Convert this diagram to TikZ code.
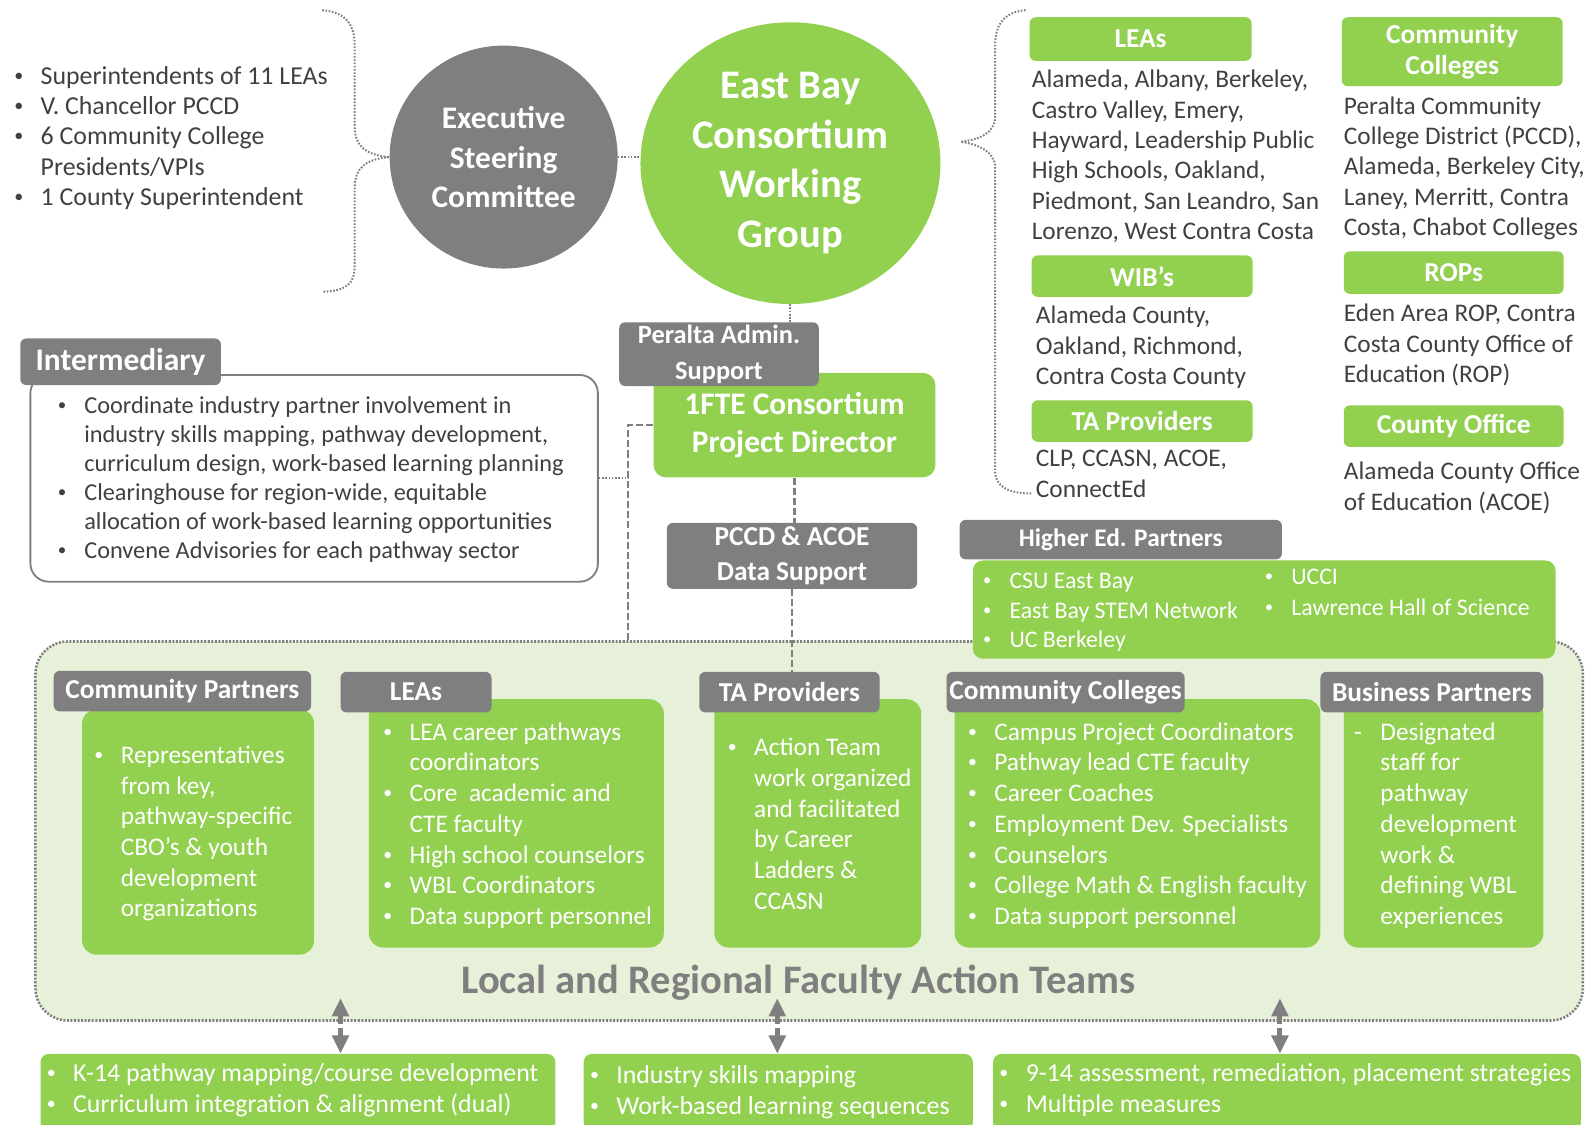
\documentclass[tikz,border=0pt]{standalone}
\usepackage{fontspec}
\setmainfont{Carlito}
\usetikzlibrary{shapes.geometric,arrows.meta}
\definecolor{egreen}{HTML}{92D050}
\definecolor{egray}{HTML}{7F7F7F}
\definecolor{etext}{HTML}{404040}
\definecolor{epale}{HTML}{E7F1DA}
\newcommand{\bu}{\makebox[26pt][l]{\raisebox{0.12em}{\scalebox{0.7}{\textbullet}}}}
\newcommand{\da}{\makebox[26pt][l]{-}}
\newcommand{\lst}[1]{\begin{tabular}[t]{@{}l@{}l@{}}#1\end{tabular}}
\newcommand{\rows}[1]{\begin{tabular}[t]{@{}l@{}}#1\end{tabular}}
\begin{document}
\begin{tikzpicture}[x=1pt,y=-1pt]
\tikzset{wh/.style 2 args={minimum width=#1pt,minimum height=#2pt}}
\tikzset{greenhead/.style={fill=egreen,rounded corners=6pt,text=white,align=center,inner sep=0pt,font=\bfseries\fontsize{27}{31}\selectfont}}
\tikzset{grayhead/.style={greenhead,fill=egray}}
\tikzset{greenbody/.style={fill=egreen,rounded corners=14pt,inner sep=0pt}}
\tikzset{plain/.style={anchor=base west,inner sep=0pt,text=etext,font=\fontsize{25}{30}\selectfont}}
\tikzset{wtext/.style={plain,text=white}}
\tikzset{dotline/.style={draw=egray,line width=2pt,dash pattern=on 1.6pt off 1.6pt}}
\tikzset{dashline/.style={draw=egray,line width=2.2pt,dash pattern=on 7pt off 3pt}}
\tikzset{twoway/.style={draw=egray,line width=5pt,dash pattern=on 9pt off 4pt,{Triangle[length=18pt,width=16pt]}-{Triangle[length=18pt,width=16pt]}}}
\useasboundingbox (0,0) rectangle (1568,1110);

\node[plain,font=\fontsize{25.5}{30}\selectfont] (esclist) at (14,83) {\lst{\bu & Superintendents of 11 LEAs\\ \bu & V. Chancellor PCCD\\ \bu & 6 Community College\\ & Presidents/VPIs\\ \bu & 1 County Superintendent}};
\node[ellipse,fill=egray,wh={225}{220},inner sep=0pt,text=white,align=center,font=\bfseries\fontsize{31}{38.5}\selectfont] (esc) at (497,155) {Executive\\Steering\\Committee};
\node[ellipse,fill=egreen,wh={296}{278},inner sep=0pt,text=white,align=center,font=\bfseries\fontsize{40}{49}\selectfont] (ebc) at (780,161) {East Bay\\Consortium\\Working\\Group};
\coordinate (lbtop) at (318,10);
\coordinate (lbbot) at (318,288);
\draw[dotline] (lbtop) .. controls (342,12) and (350,25) .. (350,45) -- (350,125) .. controls (350,145) and (362,153) .. (esc.west) .. controls (362,157) and (350,165) .. (350,185) -- (350,262) .. controls (350,280) and (342,287) .. (lbbot);
\draw[dotline] (esc.east) -- (esc.east -| ebc.west);

\node[greenhead,wh={219}{43}] (hlea) at (1125.5,38.5) {LEAs};
\node[greenhead,wh={218}{68}] (hcc) at (1433,51) {Community\\Colleges};
\node[greenhead,wh={218}{41}] (hwib) at (1127,272.5) {WIB’s};
\node[greenhead,wh={218}{41}] (hta) at (1127,415.5) {TA Providers};
\node[greenhead,wh={217}{42}] (hrop) at (1434.5,269) {ROPs};
\node[greenhead,wh={217}{41}] (hco) at (1434.5,420.5) {County Office};
\node[plain] (tlea) at (1018,86.5) {\rows{Alameda, Albany, Berkeley,\\ Castro Valley, Emery,\\ Hayward, Leadership Public\\ High Schools, Oakland,\\ Piedmont, San Leandro, San\\ Lorenzo, West Contra Costa}};
\node[plain] (tcc) at (1326,112.5) {\rows{Peralta Community\\ College District (PCCD),\\ Alameda, Berkeley City,\\ Laney, Merritt, Contra\\ Costa, Chabot Colleges}};
\node[plain] (twib) at (1022,319.5) {\rows{Alameda County,\\ Oakland, Richmond,\\ Contra Costa County}};
\node[plain] (tta) at (1022,460.5) {\rows{CLP, CCASN, ACOE,\\ ConnectEd}};
\node[plain] (trop) at (1326,317.5) {\rows{Eden Area ROP, Contra\\ Costa County Office of\\ Education (ROP)}};
\node[plain] (tco) at (1326,473.5) {\rows{Alameda County Office\\ of Education (ACOE)}};
\coordinate (rbtop) at (1012,10);
\coordinate (rbtip) at (948,140);
\coordinate (rbbot) at (1018,487);
\draw[dotline] (rbtop) .. controls (990,12) and (982,25) .. (982,45) -- (982,115) .. controls (982,132) and (965,138) .. (rbtip) .. controls (965,142) and (982,150) .. (982,165) -- (982,465) .. controls (982,480) and (995,487) .. (rbbot);

\node[greenhead,wh={278}{103},rounded corners=12pt,font=\bfseries\fontsize{31}{38}\selectfont] (pdir) at (784,419.5) {1FTE Consortium\\Project Director};
\node[grayhead,wh={197}{63},font=\bfseries\fontsize{26}{35}\selectfont] (padmin) at (709.5,349.5) {Peralta Admin.\\Support};
\node[grayhead,wh={247}{65},font=\bfseries\fontsize{27}{34}\selectfont] (pccd) at (781.5,548.5) {PCCD \& ACOE\\Data Support};
\draw[dotline] (ebc.south) -- (ebc.south |- padmin.north);
\draw[dashline] (pdir.south) -- (pdir.south |- pccd.north);

\node[draw=egray,line width=1.8pt,fill=white,rounded corners=18pt,wh={560}{204}] (interm) at (310,472) {};
\node[grayhead,wh={198}{46},font=\bfseries\fontsize{31}{36}\selectfont] (intermhead) at (119,357) {Intermediary};
\node[plain,font=\fontsize{24}{28.6}\selectfont] (intermlist) at (57,408) {\lst{\bu & Coordinate industry partner involvement in\\ & industry skills mapping, pathway development,\\ & curriculum design, work-based learning planning\\ \bu & Clearinghouse for region-wide, equitable\\ & allocation of work-based learning opportunities\\ \bu & Convene Advisories for each pathway sector}};

\node[fill=epale,draw=egray,line width=2.5pt,dash pattern=on 2pt off 1.5pt,rounded corners=32pt,wh={1527}{374}] (fat) at (798.5,820) {};
\node[text=egray,font=\bfseries\fontsize{40}{48}\selectfont] (fatlabel) at (788,970) {Local and Regional Faculty Action Teams};
\draw[dashline] (pdir.west) -- ++(-25,0) coordinate (bend) -- (bend |- fat.north);
\draw[dotline] (interm.east) -- (interm.east -| bend);

\node[greenbody,wh={575}{97},rounded corners=10pt] (hebody) at (1247.5,601.5) {};
\node[grayhead,wh={318}{39},font=\bfseries\fontsize{25}{30}\selectfont] (hehead) at (1106,532.5) {Higher Ed. Partners};
\node[wtext,font=\fontsize{23.5}{29}\selectfont] (helist) at (970,581) {\lst{\bu & CSU East Bay\\ \bu & East Bay STEM Network\\ \bu & UC Berkeley}};
\node[wtext,font=\fontsize{23.5}{30}\selectfont] (helist2) at (1248,577) {\lst{\bu & UCCI\\ \bu & Lawrence Hall of Science}};

\node[greenbody,wh={229}{242}] (cpbody) at (195.5,821) {};
\node[grayhead,wh={254}{40}] (cphead) at (180,682) {Community Partners};
\node[wtext,font=\fontsize{25}{30.2}\selectfont] (cplist) at (93,753.5) {\lst{\bu & Representatives\\ & from key,\\ & pathway-specific\\ & CBO’s \& youth\\ & development\\ & organizations}};

\node[greenbody,wh={291}{245}] (leabody) at (509.5,812.5) {};
\node[grayhead,wh={149}{40}] (leahead) at (410.5,683) {LEAs};
\node[wtext,font=\fontsize{25}{30.3}\selectfont] (lealist) at (378,730.5) {\lst{\bu & LEA career pathways\\ & coordinators\\ \bu & Core\ \ academic and\\ & CTE faculty\\ \bu & High school counselors\\ \bu & WBL Coordinators\\ \bu & Data support personnel}};

\node[greenbody,wh={204}{245}] (tabody) at (807,812.5) {};
\node[grayhead,wh={178}{40}] (tahead) at (779,683) {TA Providers};
\node[wtext,font=\fontsize{25}{30.4}\selectfont] (talist) at (718,745.5) {\lst{\bu & Action Team\\ & work organized\\ & and facilitated\\ & by Career\\ & Ladders \&\\ & CCASN}};
\draw[dashline] (pccd.south) -- (pccd.south |- tahead.north);

\node[greenbody,wh={361}{245}] (ccbody) at (1122.5,812.5) {};
\node[grayhead,wh={235}{40}] (cchead) at (1051.5,683) {Community Colleges};
\node[wtext,font=\fontsize{25}{30.3}\selectfont] (cclist) at (955,730.5) {\lst{\bu & Campus Project Coordinators\\ \bu & Pathway lead CTE faculty\\ \bu & Career Coaches\\ \bu & Employment Dev. Specialists\\ \bu & Counselors\\ \bu & College Math \& English faculty\\ \bu & Data support personnel}};

\node[greenbody,wh={197}{245}] (bpbody) at (1424.5,812.5) {};
\node[grayhead,wh={220}{40}] (bphead) at (1413,683) {Business Partners};
\node[wtext,font=\fontsize{25}{30.3}\selectfont] (bplist) at (1336,730.5) {\lst{\da & Designated\\ & staff for\\ & pathway\\ & development\\ & work \&\\ & defining WBL\\ & experiences}};

\node[greenbody,wh={508}{76},rounded corners=8pt] (b1) at (294,1078) {};
\node[greenbody,wh={384}{76},rounded corners=8pt] (b2) at (768,1078) {};
\node[greenbody,wh={580}{76},rounded corners=8pt] (b3) at (1270,1078) {};
\node[wtext,font=\fontsize{25.5}{30}\selectfont] (b1list) at (46,1067.5) {\lst{\bu & K-14 pathway mapping/course development\\ \bu & Curriculum integration \& alignment (dual)}};
\node[wtext,font=\fontsize{25.5}{30}\selectfont] (b2list) at (582,1069.5) {\lst{\bu & Industry skills mapping\\ \bu & Work-based learning sequences}};
\node[wtext,font=\fontsize{25.5}{30}\selectfont] (b3list) at (986,1067.5) {\lst{\bu & 9-14 assessment, remediation, placement strategies\\ \bu & Multiple measures}};
\coordinate (a1) at (336,985);
\coordinate (a2) at (767,985);
\coordinate (a3) at (1263,985);
\draw[twoway] (a1) -- (a1 |- b1.north);
\draw[twoway] (a2) -- (a2 |- b2.north);
\draw[twoway] (a3) -- (a3 |- b3.north);
\end{tikzpicture}
\end{document}
